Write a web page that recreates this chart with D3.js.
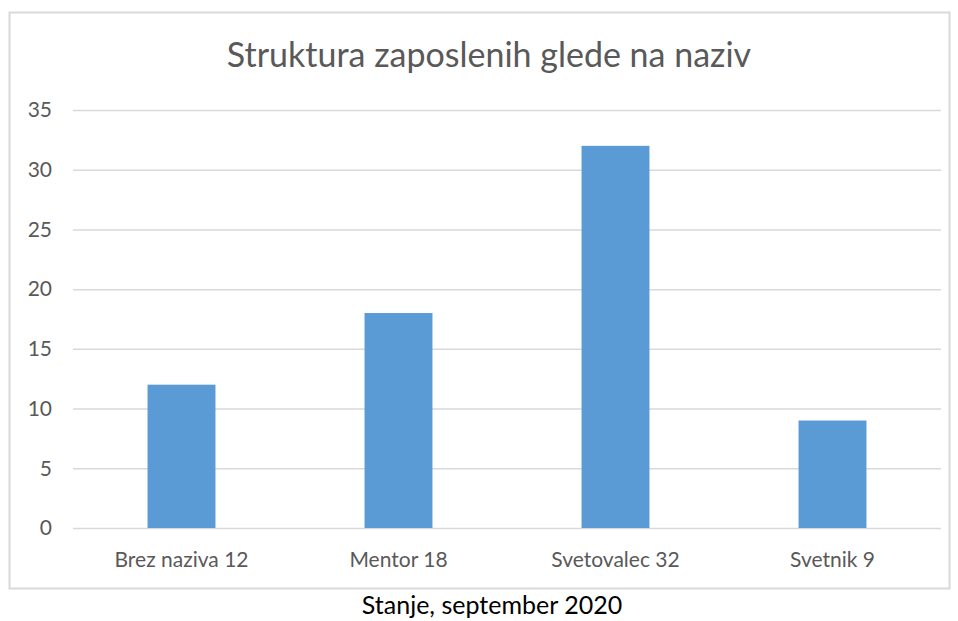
<!DOCTYPE html>
<html>
<head>
<meta charset="utf-8">
<script src="https://cdn.jsdelivr.net/npm/d3@7"></script>
<style>
  body { margin: 0; background: #fff; }
  svg { display: block; }
</style>
</head>
<body>
<script>
    'use strict';

    /* data */

    var categories = ['Brez naziva 12', 'Mentor 18', 'Svetovalec 32', 'Svetnik 9'];
    var values = [12, 18, 32, 9];
    var yTicks = [0, 5, 10, 15, 20, 25, 30, 35];

    var title = 'Struktura zaposlenih glede na naziv';
    var caption = 'Stanje, september 2020';

    /* layout */

    var width = 958, height = 621;
    var plot = { left: 73, right: 941, top: 110, bottom: 528 };
    var font = 'Lato, "Open Sans", sans-serif';

    var svg = d3.select('body').append('svg')
        .attr('width', width)
        .attr('height', height)
    ;

    // chart frame
    svg.append('rect')
        .attr('x', 9.5).attr('y', 12.5)
        .attr('width', 940).attr('height', 576)
        .attr('fill', '#fff')
        .attr('stroke', '#d9d9d9')
        .attr('stroke-width', 2)
    ;

    /* scales */

    var x = d3.scaleBand()
        .domain(categories)
        .range([plot.left, plot.right])
        .paddingInner(0.687)
        .paddingOuter(0.3435)
    ;

    var y = d3.scaleLinear()
        .domain([0, 35])
        .range([plot.bottom, plot.top])
    ;

    /* gridlines + y labels */

    var yAxis = d3.axisLeft(y)
        .tickValues(yTicks)
        .tickSize(-(plot.right - plot.left))
        .tickPadding(21)
    ;

    var gy = svg.append('g')
        .attr('transform', 'translate(' + plot.left + ',0)')
        .call(yAxis)
    ;
    gy.select('.domain').remove();
    gy.selectAll('.tick line')
        .attr('stroke', '#d9d9d9')
        .attr('stroke-width', 1.5)
    ;
    gy.selectAll('.tick text')
        .attr('fill', '#595959')
        .style('font', '21px ' + font)
    ;

    /* bars */

    svg.append('g').selectAll('rect')
        .data(values)
        .enter()
        .append('rect')
        .attr('x', function (d, i) { return x(categories[i]); })
        .attr('y', function (d) { return y(d); })
        .attr('width', x.bandwidth())
        .attr('height', function (d) { return y(0) - y(d); })
        .attr('fill', '#5b9bd5')
    ;

    /* x labels */

    var xAxis = d3.axisBottom(x).tickSize(0).tickPadding(24);
    var gx = svg.append('g')
        .attr('transform', 'translate(0,' + plot.bottom + ')')
        .call(xAxis)
    ;
    gx.select('.domain').remove();
    gx.selectAll('.tick text')
        .attr('fill', '#595959')
        .style('font', '21px ' + font)
    ;

    /* titles */

    svg.append('text')
        .attr('x', 489).attr('y', 67)
        .attr('text-anchor', 'middle')
        .attr('fill', '#595959')
        .style('font', '34px ' + font)
        .text(title)
    ;

    svg.append('text')
        .attr('x', 492).attr('y', 614)
        .attr('text-anchor', 'middle')
        .attr('fill', '#000')
        .style('font', '25px ' + font)
        .text(caption)
    ;
</script>
</body>
</html>
